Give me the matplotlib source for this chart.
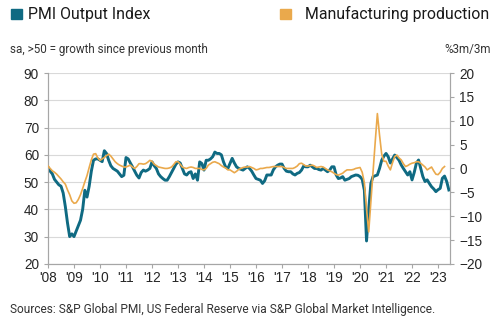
# PMI output index vs US manufacturing production (3m/3m)
import numpy as np
import matplotlib.pyplot as plt

plt.rcParams['font.family'] = ['Liberation Sans', 'DejaVu Sans']

teal = '#0f6a82'
orange = '#eaa94c'
grid_col = '#d9d9d9'
spine_col = '#a6a6a6'

# monthly PMI output index, Jan 2008 - Jun 2023
pmi = [
    55.5, 54.0, 53.0, 51.0, 50.0, 49.0, 48.5, 46.0, 41.0, 35.0, 30.0, 31.0,   # 2008
    30.0, 32.0, 34.0, 36.0, 40.0, 47.0, 44.5, 48.5, 54.0, 58.0, 58.5, 58.5,   # 2009
    58.0, 57.5, 61.5, 60.5, 58.0, 56.0, 55.0, 54.5, 54.0, 53.0, 52.0, 52.5,   # 2010
    59.0, 58.5, 57.0, 55.6, 54.0, 52.5, 51.5, 53.5, 54.4, 54.0, 54.4, 55.0,   # 2011
    57.4, 56.0, 55.0, 53.0, 52.0, 51.3, 50.7, 50.7, 52.0, 53.5, 55.0, 56.5,   # 2012
    57.4, 57.0, 55.0, 53.0, 52.6, 53.5, 53.8, 51.3, 53.0, 50.7, 57.4, 56.8,   # 2013
    54.4, 58.0, 58.0, 58.5, 59.3, 61.0, 60.5, 60.5, 60.0, 57.4, 55.5, 55.0,   # 2014
    56.8, 58.7, 57.0, 55.6, 55.0, 54.7, 54.4, 55.0, 55.6, 55.0, 54.0, 52.6,   # 2015
    51.3, 51.0, 50.7, 49.5, 50.5, 52.6, 52.6, 52.6, 54.5, 55.6, 56.2, 56.6,   # 2016
    56.6, 55.0, 54.0, 53.8, 53.8, 53.0, 52.6, 53.2, 53.5, 54.4, 55.9, 55.6,   # 2017
    55.6, 56.2, 55.6, 55.0, 55.0, 54.6, 54.4, 55.0, 54.4, 53.8, 54.4, 55.6,   # 2018
    55.6, 52.6, 51.3, 51.5, 52.0, 50.7, 51.0, 51.3, 52.0, 52.3, 52.6, 52.5,   # 2019
    52.0, 51.0, 47.0, 28.4, 39.8, 49.5, 52.0, 52.3, 52.6, 55.0, 58.0, 59.5,   # 2020
    60.5, 59.3, 57.0, 58.5, 59.9, 59.0, 58.0, 56.3, 55.0, 53.8, 52.6, 53.8,   # 2021
    50.8, 53.5, 56.9, 58.1, 55.0, 52.0, 50.2, 50.8, 49.5, 48.3, 47.5, 46.5,   # 2022
    47.2, 47.7, 51.4, 52.2, 50.2, 47.1,                                       # 2023
]

# monthly manufacturing production, %3m/3m, Jan 2008 - Apr 2023
mfg = [
    0.5, 0.0, -0.5, -0.8, -1.2, -1.7, -2.2, -2.8, -3.3, -4.5, -5.5, -6.8,     # 2008
    -7.3, -7.2, -6.5, -5.5, -4.2, -2.8, -1.5, 0.2, 1.8, 3.0, 3.1, 2.2,        # 2009
    1.7, 2.0, 2.3, 2.7, 3.0, 2.6, 2.0, 1.4, 1.0, 0.7, 0.5, 0.3,              # 2010
    0.3, 0.5, 0.7, 0.3, 0.0, 0.4, 1.0, 1.0, 0.9, 1.0, 1.3, 1.7,              # 2011
    1.5, 0.9, 0.6, 0.3, 0.2, 0.1, 0.0, 0.0, 0.1, 0.3, 0.8, 1.4,              # 2012
    1.4, 0.9, 0.3, 0.1, 0.0, 0.2, 0.3, 0.2, 0.0, 0.0, 0.0, -0.2,             # 2013
    -0.3, 0.0, 0.7, 1.0, 1.3, 1.4, 1.2, 1.0, 0.6, 0.3, 0.1, -0.3,            # 2014
    -0.3, -0.6, -0.9, -0.6, -0.2, 0.0, 0.2, 0.3, 0.3, 0.4, 0.2, 0.0,         # 2015
    -0.3, -0.2, 0.0, 0.0, 0.1, 0.2, 0.2, 0.3, 0.4, 0.4, 0.4, 0.4,            # 2016
    0.4, 0.2, 0.0, 0.0, 0.0, 0.0, 0.2, 0.5, 1.0, 1.1, 0.8, 0.5,              # 2017
    0.5, 0.6, 0.7, 0.5, 0.2, 0.3, 0.4, 0.3, 0.0, -0.3, -0.5, -0.7,           # 2018
    -1.0, -1.3, -1.4, -1.2, -1.0, -0.6, -0.3, -0.3, -0.3, -0.2, 0.0, 0.1,    # 2019
    0.2, -0.8, -3.0, -8.5, -13.3, -7.0, -1.0, 5.5, 11.5, 7.0, 3.0, 1.5,      # 2020
    1.5, 0.5, -0.3, 1.2, 2.5, 2.8, 2.2, 1.8, 1.0, 0.4, 0.6, 0.9,             # 2021
    1.1, 1.2, 1.4, 1.4, 1.1, 0.7, 0.3, -0.3, 0.0, 0.3, -0.5, -1.2,           # 2022
    -1.3, -0.8, 0.0, 0.4,                                                     # 2023
]

pmi_x = 2008 + np.arange(len(pmi)) / 12
mfg_x = 2008 + np.arange(len(mfg)) / 12
years = np.arange(2008, 2024)
year_labels = ["'%02d" % (y % 100) for y in years]

fig = plt.figure(figsize=(5.0, 3.29), dpi=100)
ax = fig.add_axes([0.096, 0.198, 0.804, 0.58])

ax.plot(pmi_x, pmi, color=teal, lw=2.1, solid_joinstyle='round', zorder=3)
ax.set_xlim(2008, 2023.46)
ax.set_ylim(20, 90)
ax.set_yticks(np.arange(20, 91, 10))
ax.set_xticks(years)
ax.set_xticklabels(year_labels)
ax.grid(axis='y', color=grid_col, lw=0.8)
ax.set_axisbelow(True)

ax2 = ax.twinx()
ax2.plot(mfg_x, mfg, color=orange, lw=1.2, zorder=4)
ax2.set_ylim(-20, 20)
ax2.set_yticks(np.arange(-20, 21, 5))

for a in (ax, ax2):
    a.spines['top'].set_visible(False)
    for s in ('left', 'right', 'bottom'):
        a.spines[s].set_color(spine_col)
        a.spines[s].set_linewidth(0.8)
    a.tick_params(colors=spine_col, labelcolor='#262626', labelsize=9.8,
                  length=3, width=0.8)
ax.tick_params(axis='x', pad=2)

# header legend and notes
hfont = ['Roboto', 'DejaVu Sans']
fig.patches.append(plt.Rectangle((0.022, 0.942), 0.022, 0.032, color=teal,
                                 transform=fig.transFigure))
fig.text(0.055, 0.957, 'PMI Output Index', fontsize=11.4, va='center',
         family=hfont, color='#1a1a1a')
fig.patches.append(plt.Rectangle((0.56, 0.942), 0.022, 0.032, color=orange,
                                 transform=fig.transFigure))
fig.text(0.61, 0.957, 'Manufacturing production', fontsize=11.4, va='center',
         family=hfont, color='#1a1a1a')
fig.text(0.02, 0.851, 'sa, >50 = growth since previous month', fontsize=8.4,
         va='center', family=hfont, color='#333333')
fig.text(0.982, 0.851, '%3m/3m', fontsize=8.4, va='center', ha='right',
         family=hfont, color='#333333')
fig.text(0.02, 0.058, 'Sources: S&P Global PMI, US Federal Reserve via S&P Global Market Intelligence.',
         fontsize=8.6, va='center', family=hfont, color='#333333')

fig.savefig('out.png', dpi=100)
